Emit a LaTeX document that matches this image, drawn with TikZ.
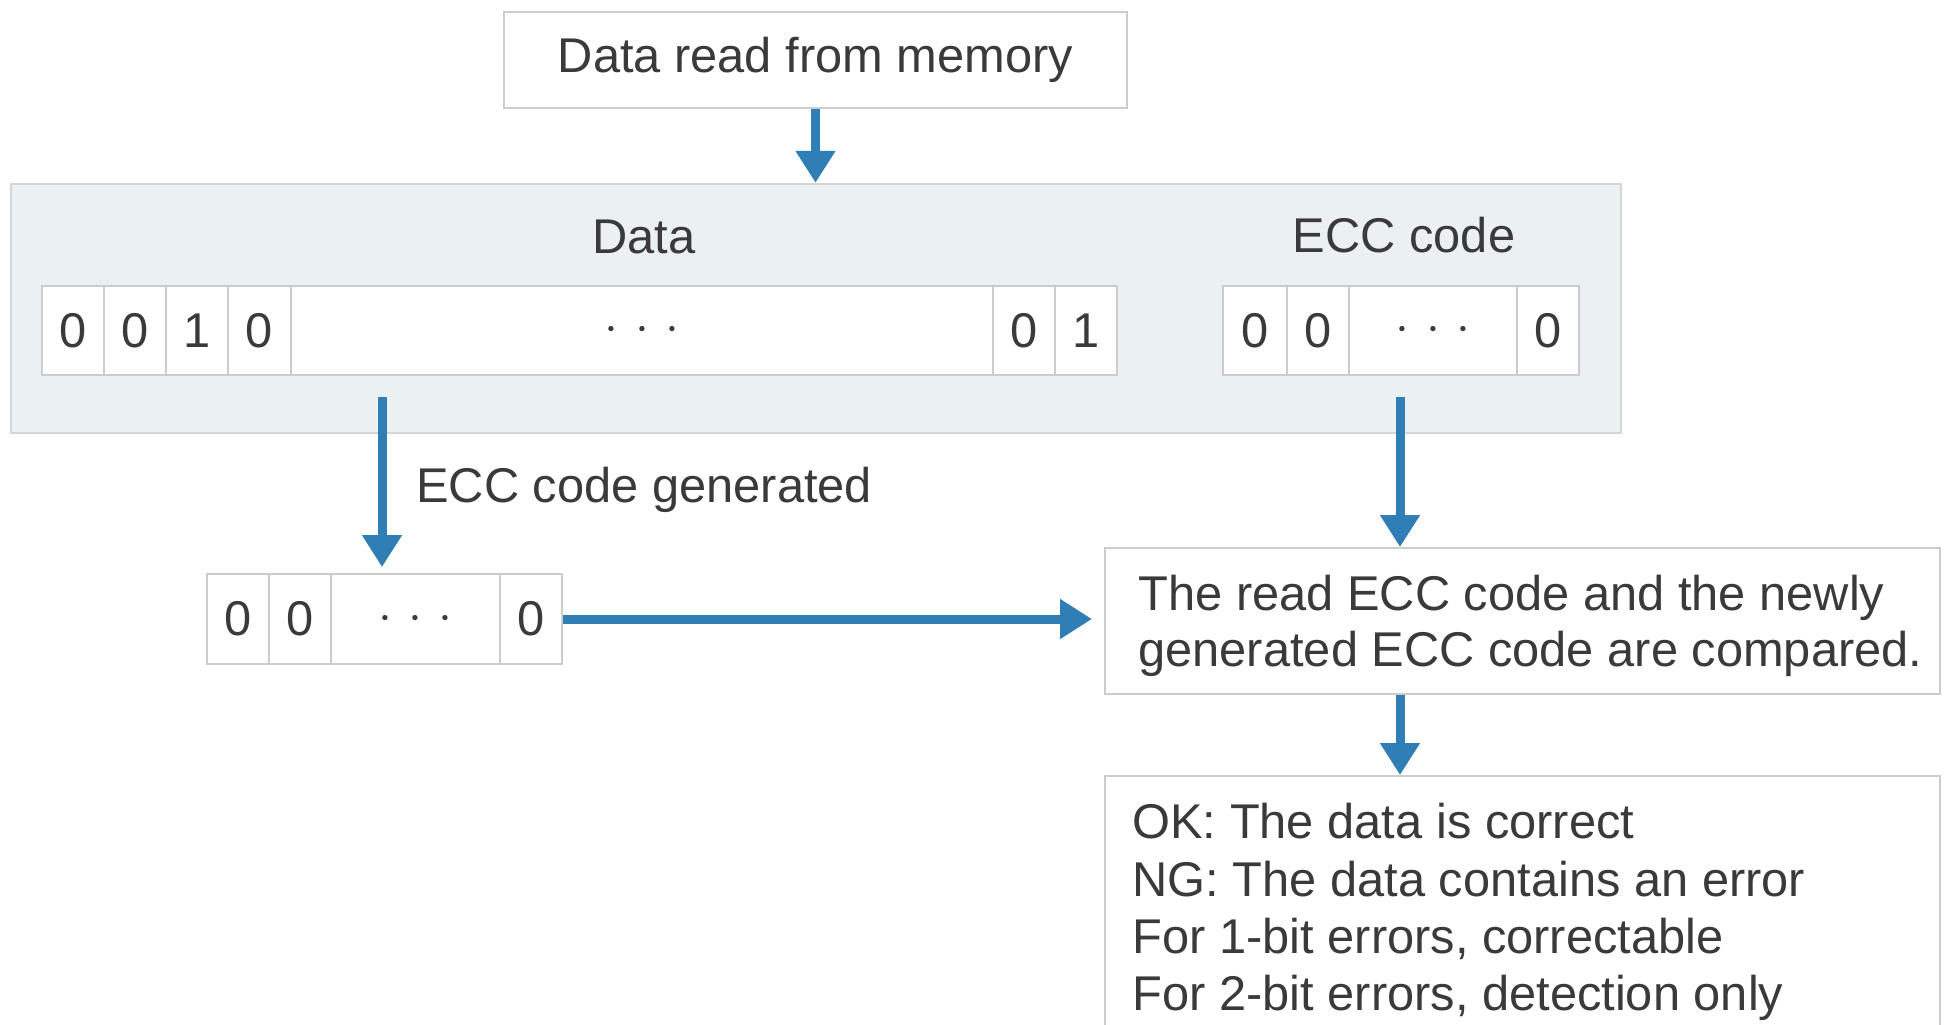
\documentclass[tikz,border=0pt]{standalone}
\usepackage{fontspec}
\setmainfont{Liberation Sans}
\usetikzlibrary{arrows.meta}
\definecolor{arrblue}{RGB}{47,126,181}
\definecolor{txtgray}{RGB}{58,58,58}
\definecolor{linegray}{RGB}{204,204,204}
\definecolor{panelfill}{RGB}{235,240,243}
\definecolor{panelline}{RGB}{210,214,217}
\newcommand\dotsrow{$\cdot$\hspace{8.2pt}$\cdot$\hspace{8.2pt}$\cdot$}
\begin{document}
\begin{tikzpicture}[x=0.5pt,y=-0.5pt,
  every node/.style={font=\fontsize{24.4}{28.5}\selectfont, text=txtgray},
  boxed/.style={draw=linegray, line width=1pt, fill=white, inner sep=0pt, rectangle},
  cellA/.style={boxed, minimum height=44.5pt},
  cellB/.style={boxed, minimum height=45pt},
  panel/.style={draw=panelline, line width=1.2pt, fill=panelfill, inner sep=0pt, rectangle},
  lbl/.style={inner sep=0pt},
  arr/.style={draw=arrblue, line width=4.5pt, -{Triangle[length=16pt,width=19pt]}}]
\useasboundingbox (0,0) rectangle (1946,1024);
\fill[white] (0,0) rectangle (1946,1024);

% top box
\node[boxed, minimum width=311.5pt, minimum height=48pt] (top) at (815.5,60) {Data read from memory};

% panel
\node[panel, minimum width=805pt, minimum height=124.5pt] (panel) at (816,308.5) {};
\node[lbl, anchor=base] (datalbl) at (644,253) {Data};
\node[lbl, anchor=base] (ecclbl) at (1404,252) {ECC code};

% data row
\node[cellA, minimum width=31pt] (d1) at (73,330.5) {0};
\node[cellA, minimum width=31pt] (d2) at (135,330.5) {0};
\node[cellA, minimum width=31pt] (d3) at (197,330.5) {1};
\node[cellA, minimum width=31.5pt] (d4) at (259.5,330.5) {0};
\node[cellA, minimum width=351pt] (ddots) at (642,330.5) {\dotsrow};
\node[cellA, minimum width=31pt] (d5) at (1024,330.5) {0};
\node[cellA, minimum width=31pt] (d6) at (1086,330.5) {1};

% ecc row
\node[cellA, minimum width=32pt] (e1) at (1255,330.5) {0};
\node[cellA, minimum width=31pt] (e2) at (1318,330.5) {0};
\node[cellA, minimum width=84pt] (edots) at (1433,330.5) {\dotsrow};
\node[cellA, minimum width=31pt] (e3) at (1548,330.5) {0};

% generated row
\node[cellB, minimum width=31pt] (g1) at (238,619) {0};
\node[cellB, minimum width=31pt] (g2) at (300,619) {0};
\node[cellB, minimum width=84.5pt] (gdots) at (415.5,619) {\dotsrow};
\node[cellB, minimum width=31pt] (g3) at (531,619) {0};
\node[lbl, anchor=base west] (genlbl) at (416,502) {ECC code generated};

% compare box
\node[boxed, minimum width=417.5pt, minimum height=73pt] (cmp) at (1522.5,621) {};
\node[lbl, anchor=base west] (cmp1) at (1138,610) {The read ECC code and the newly};
\node[lbl, anchor=base west] (cmp2) at (1138,666) {generated ECC code are compared.};

% result box
\node[boxed, minimum width=417.5pt, minimum height=142pt] (res) at (1522.5,918) {};
\node[lbl, anchor=base west] (res1) at (1132,838) {OK: The data is correct};
\node[lbl, anchor=base west] (res2) at (1132,896) {NG: The data contains an error};
\node[lbl, anchor=base west] (res3) at (1132,953) {For 1-bit errors, correctable};
\node[lbl, anchor=base west] (res4) at (1132,1010) {For 2-bit errors, detection only};

% connector anchors
\coordinate (s2) at (382,397);
\coordinate (s3) at (1400,397);

% arrows
\draw[arr] (top.south) -- (top.south |- panel.north);
\draw[arr, shorten >=3pt] (s2) -- (s2 |- g1.north);
\draw[arr] (s3) -- (s3 |- cmp.north);
\draw[arr, shorten >=6pt] (g3.east) -- (cmp.west |- g3.east);
\draw[arr] (s3 |- cmp.south) -- (s3 |- res.north);
\end{tikzpicture}
\end{document}
